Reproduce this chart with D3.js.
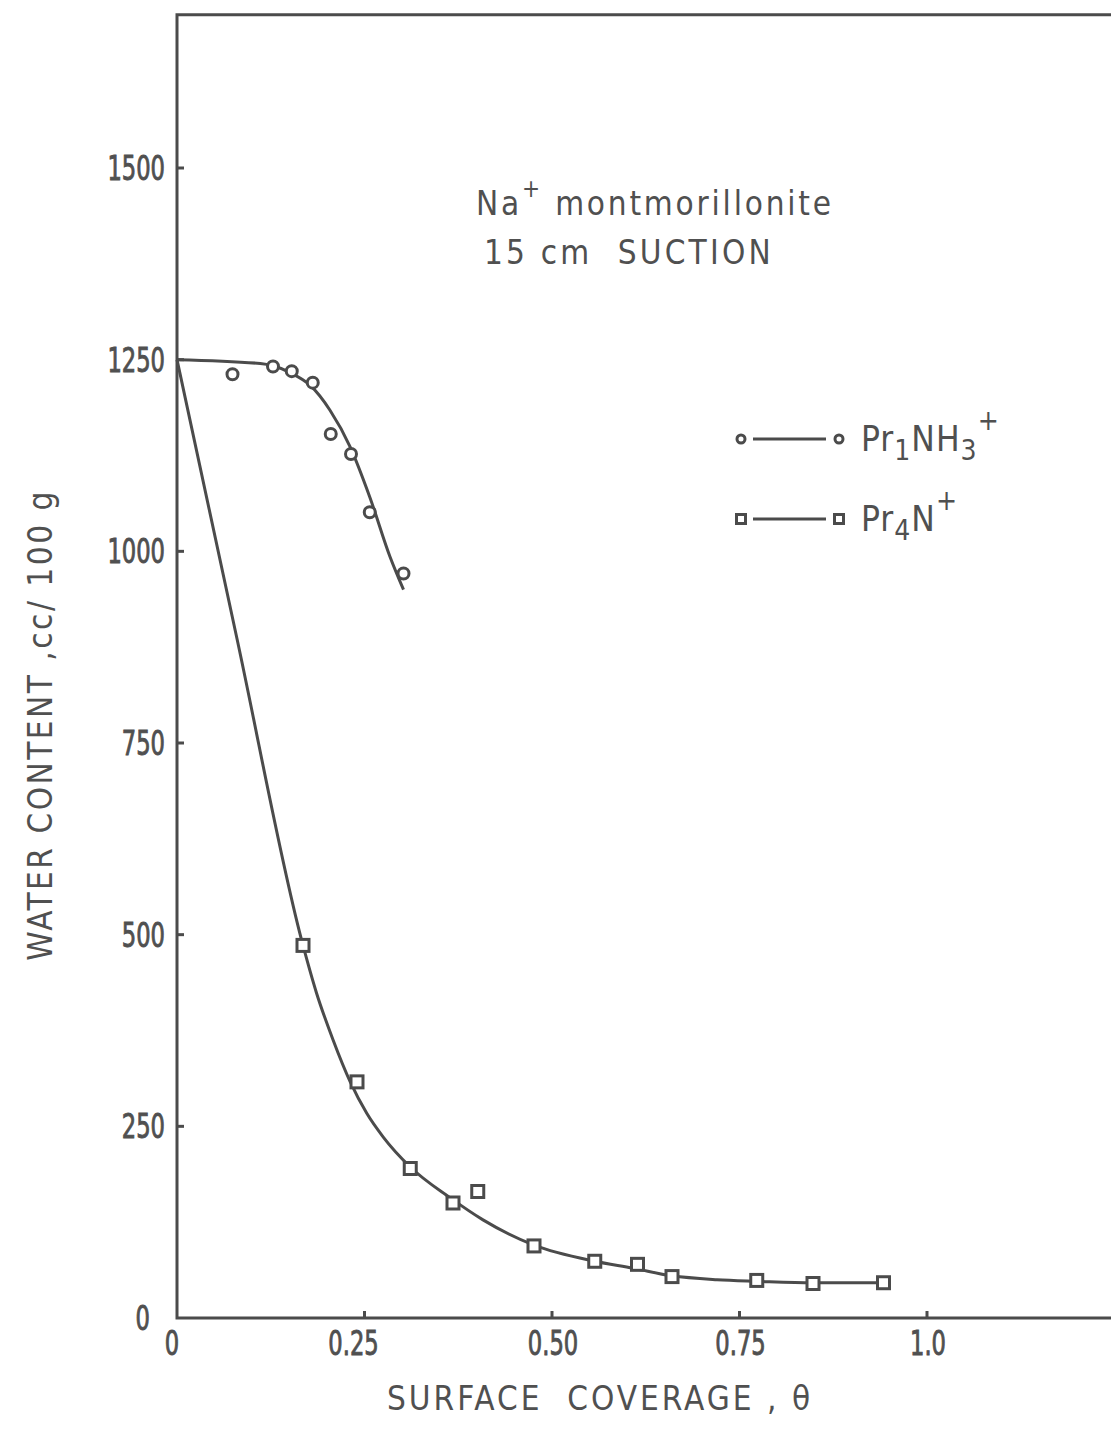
<!DOCTYPE html>
<html>
<head>
<meta charset="utf-8">
<script src="https://cdn.jsdelivr.net/npm/d3@7"></script>
<style>
  html, body { margin: 0; padding: 0; background: #fff; }
  svg { display: block; }
  text { font-family: "DejaVu Sans Condensed", "DejaVu Sans", sans-serif; fill: #505050; }
</style>
</head>
<body>
<svg id="chart" width="1111" height="1444"></svg>
<script>
// Axis ticks
const xTicks = [0, 0.25, 0.5, 0.75, 1.0];
const xTickLabels = ["0", "0.25", "0.50", "0.75", "1.0"];
const yTicks = [0, 250, 500, 750, 1000, 1250, 1500];
const yTickLabels = ["0", "250", "500", "750", "1000", "1250", "1500"];

// Pr1NH3+ measurements (surface coverage, water content cc/100 g)
const pr1Theta = [0.074, 0.128, 0.153, 0.181, 0.205, 0.232, 0.257, 0.302];
const pr1Water = [1231, 1241, 1235, 1220, 1153, 1127, 1051, 971];
// Pr1NH3+ fitted curve
const pr1FitTheta = [0, 0.111, 0.128, 0.151, 0.177, 0.204, 0.231, 0.257, 0.284, 0.302];
const pr1FitWater = [1250, 1245, 1242, 1233, 1217, 1184, 1136, 1071, 993, 950];

// Pr4N+ measurements
const pr4Theta = [0.168, 0.240, 0.311, 0.368, 0.401, 0.476, 0.557, 0.614, 0.660, 0.773, 0.848, 0.942];
const pr4Water = [486, 308, 195, 150, 165, 94, 74, 70, 54, 49, 45, 46];
// Pr4N+ fitted curve
const pr4FitTheta = [0, 0.08, 0.168, 0.186, 0.208, 0.231, 0.253, 0.275, 0.311, 0.364, 0.408, 0.476, 0.557, 0.608, 0.660, 0.720, 0.773, 0.848, 0.942];
const pr4FitWater = [1250, 886, 486, 424, 363, 308, 267, 236, 197, 157, 128, 95, 74, 65, 55, 50, 48, 46, 46];

const INK = "#4b4b4b";
const svg = d3.select("#chart");

const x = d3.scaleLinear().domain([0, 1]).range([177, 927]);
const y = d3.scaleLinear().domain([0, 1500]).range([1318, 168]);
const xMax = 1.27, yMax = 1700;

// Frame: left axis, bottom axis and top border (open on the right)
const frame = svg.append("g").attr("stroke", INK).attr("stroke-width", 3).attr("fill", "none");
frame.append("path")
  .attr("d", `M${x(xMax)},${y(yMax)} L${x(0)},${y(yMax)} L${x(0)},${y(0)} L${x(xMax)},${y(0)}`);

// Inward ticks
frame.selectAll(".xt").data(xTicks.filter(d => d > 0)).join("line")
  .attr("x1", d => x(d)).attr("x2", d => x(d))
  .attr("y1", y(0)).attr("y2", y(0) - 7);
frame.selectAll(".yt").data(yTicks.filter(d => d > 0)).join("line")
  .attr("x1", x(0)).attr("x2", x(0) + 7)
  .attr("y1", d => y(d)).attr("y2", d => y(d));

// Tick labels, in a narrow stencil-like face
const labelSize = 34;
const squeeze = 0.74;
const xNudge = d => (d === 0 ? -5 : d === 0.25 ? -11 : 1);
const tickText = g => g.attr("font-size", labelSize)
  .attr("stroke", "#505050").attr("stroke-width", 0.9);
svg.append("g").call(tickText).selectAll("text").data(xTicks).join("text")
  .attr("transform", d => `translate(${x(d) + xNudge(d)},${y(0) + 37}) scale(${squeeze},1)`)
  .attr("text-anchor", "middle")
  .text((d, i) => xTickLabels[i]);

svg.append("g").call(tickText).selectAll("text").data(yTicks).join("text")
  .attr("transform", d => `translate(${d === 0 ? x(0) - 27 : x(0) - 12},${y(d) + 12}) scale(${squeeze},1)`)
  .attr("text-anchor", "end")
  .text((d, i) => yTickLabels[i]);

// Axis titles
svg.append("text")
  .attr("x", 600).attr("y", 1410)
  .attr("text-anchor", "middle")
  .attr("font-size", 33)
  .attr("letter-spacing", 3)
  .attr("xml:space", "preserve")
  .text("SURFACE  COVERAGE , \u03B8");

svg.append("text")
  .attr("transform", "translate(52,725) rotate(-90)")
  .attr("text-anchor", "middle")
  .attr("font-size", 33)
  .attr("letter-spacing", 2.5)
  .text("WATER CONTENT ,cc/ 100 g");

// Annotation
const note = svg.append("text").attr("x", 476).attr("y", 215).attr("font-size", 33).attr("letter-spacing", 2.8);
note.append("tspan").text("Na");
note.append("tspan").attr("dy", -18).attr("font-size", 24).text("+");
note.append("tspan").attr("dy", 18).text(" montmorillonite");
svg.append("text").attr("x", 484).attr("y", 264).attr("font-size", 33).attr("letter-spacing", 3.2)
  .attr("xml:space", "preserve").text("15 cm  SUCTION");

// Fitted curves
const line = d3.line().x(d => x(d[0])).y(d => y(d[1])).curve(d3.curveMonotoneX);
const curves = svg.append("g").attr("fill", "none").attr("stroke", INK).attr("stroke-width", 3);
curves.append("path").attr("d", line(d3.zip(pr1FitTheta, pr1FitWater)));
curves.append("path").attr("d", line(d3.zip(pr4FitTheta, pr4FitWater)));

// Markers
function circleMark(g, cx, cy, r) {
  g.append("circle").attr("cx", cx).attr("cy", cy).attr("r", r)
    .attr("fill", "#fff").attr("stroke", INK).attr("stroke-width", 3);
}
function squareMark(g, cx, cy, s) {
  g.append("rect").attr("x", cx - s / 2).attr("y", cy - s / 2).attr("width", s).attr("height", s)
    .attr("fill", "#fff").attr("stroke", INK).attr("stroke-width", 3);
}
const marks = svg.append("g");
d3.zip(pr1Theta, pr1Water).forEach(d => circleMark(marks, x(d[0]), y(d[1]), 5.5));
d3.zip(pr4Theta, pr4Water).forEach(d => squareMark(marks, x(d[0]), y(d[1]), 12));

// Legend
const legend = svg.append("g");
const rows = [
  { yPos: 439, mark: circleMark, size: 4, parts: [["Pr", 0], ["1", 1], ["NH", 0], ["3", 1], ["+", 2]] },
  { yPos: 519, mark: squareMark, size: 9, parts: [["Pr", 0], ["4", 1], ["N", 0], ["+", 2]] }
];
rows.forEach(r => {
  legend.append("line").attr("x1", 753).attr("x2", 826).attr("y1", r.yPos).attr("y2", r.yPos)
    .attr("stroke", INK).attr("stroke-width", 3);
  r.mark(legend, 741, r.yPos, r.size);
  r.mark(legend, 839, r.yPos, r.size);
  const t = legend.append("text").attr("x", 861).attr("y", r.yPos + 12).attr("font-size", 35).attr("letter-spacing", 1);
  let cur = 0;
  r.parts.forEach(([s, kind]) => {
    const target = kind === 1 ? 9 : kind === 2 ? -21 : 0;
    t.append("tspan").attr("dy", target - cur).attr("font-size", kind === 0 ? 35 : 28).text(s);
    cur = target;
  });
});
</script>
</body>
</html>
